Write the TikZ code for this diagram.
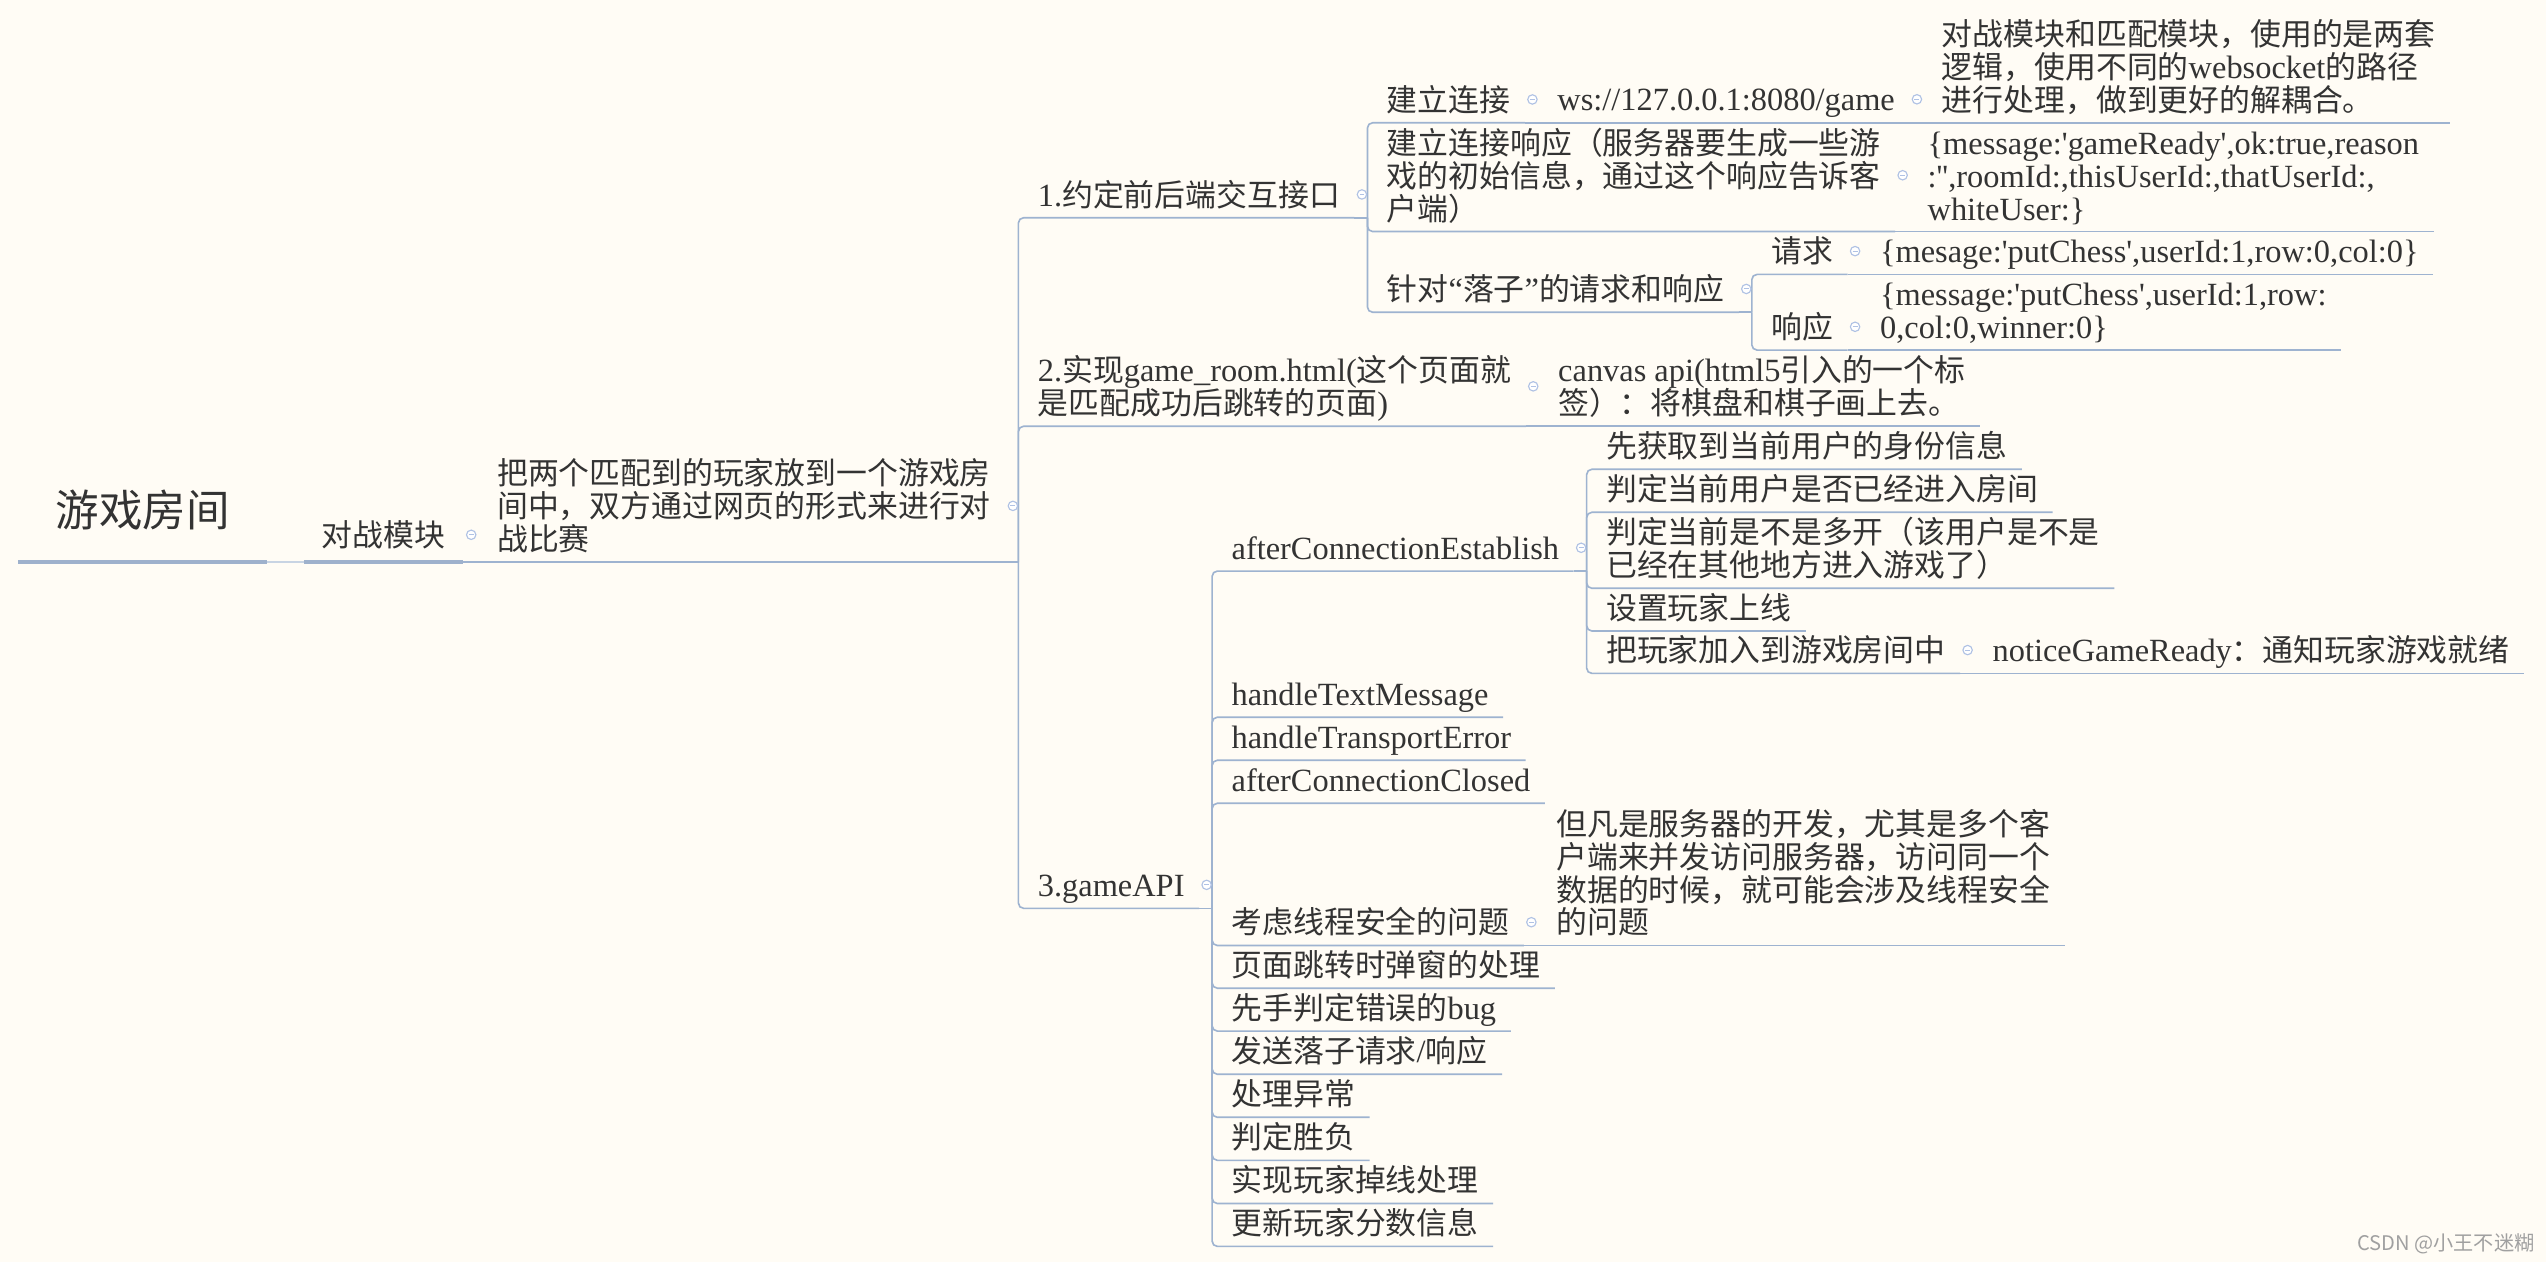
\documentclass[tikz,border=0pt]{standalone}
\usepackage{fontspec}
\usepackage{xcolor}
\usepackage{tikz}
\setmainfont{Noto Sans CJK SC}
\newfontfamily\enfont{Liberation Serif}[Scale=1.05]
\newcommand{\en}[1]{{\enfont #1}}
\newcommand{\tstrut}{\rule[-2.05pt]{0pt}{10.15pt}}
\newcommand{\tpad}{\kern1.5pt\tstrut}
\newcommand{\ml}[1]{\vbox{\lineskiplimit=-\maxdimen\baselineskip=10.15pt\let\\\cr\halign{\tstrut##\hfil\cr#1\crcr}}}

\definecolor{paper}{RGB}{255,252,245}
\definecolor{textdark}{RGB}{51,51,51}
\definecolor{linkblue}{RGB}{158,179,208}
\definecolor{mainblue}{RGB}{158,177,204}
\definecolor{paleblue}{RGB}{200,212,227}
\definecolor{foldblue}{RGB}{176,194,228}
\definecolor{wmgray}{RGB}{160,160,160}

\tikzset{
  topic/.style={anchor=south west, xshift=4pt, inner xsep=4.5pt, inner ysep=1.5pt, outer sep=0pt,
    text=textdark, font=\fontsize{9.5}{10.15}\selectfont, execute at begin node=\tpad},
  maintopic/.style={anchor=south west, inner xsep=5.5pt, inner ysep=2.75pt, outer sep=0pt,
    text=textdark, font=\fontsize{9.5}{10.15}\selectfont, execute at begin node=\tstrut},
  roottopic/.style={minimum width=76.65pt, minimum height=32.2pt, inner sep=0pt, outer sep=0pt,
    text=textdark, font=\fontsize{13.4}{16}\selectfont},
  fold/.style={circle, draw=foldblue, fill=white, line width=0.35pt, minimum size=2.9pt, inner sep=0pt,
    path picture={\draw[foldblue, line width=0.3pt] ([xshift=-0.75pt]path picture bounding box.center) -- ([xshift=0.75pt]path picture bounding box.center);}},
  link/.style={draw=linkblue, line width=0.5pt, rounded corners=1.6pt},
  mainline/.style={draw=mainblue, line width=1.35pt},
  rootlink/.style={draw=paleblue, line width=0.6pt},
  credit/.style={inner sep=0pt, text=wmgray, font=\fontsize{6.2}{7}\selectfont}
}

\begin{document}
\begin{tikzpicture}[x=0.5pt, y=-0.5pt]
  \useasboundingbox (0,0) rectangle (1568,777.2);
  \fill[paper] (0,0) rectangle (1568,777.2);

  % root and main topic
  \node[roottopic] (root) at (87.95,314) {游戏房间};
  \node[maintopic] (fight) at (187.2,346.2) {对战模块};
  \node[topic, xshift=0.5pt] (desc) at (fight.south east |- 0,346.2) {\ml{把两个匹配到的玩家放到一个游戏房\\间中，双方通过网页的形式来进行对\\战比赛}};

  % first level
  \node[topic] (api1) at (desc.south east |- 0,134.1) {\en{1.}约定前后端交互接口};
  \node[topic] (page) at (desc.south east |- 0,262.5) {\ml{\en{2.}实现\en{game\_room.html(}这个页面就\\是匹配成功后跳转的页面\en{)}}};
  \node[topic] (gapi) at (desc.south east |- 0,559.4) {\en{3.gameAPI}};

  % 1. interface
  \node[topic] (conn) at (api1.south east |- 0,75.6) {建立连接};
  \node[topic] (wsurl) at (conn.south east |- 0,75.6) {\en{ws://127.0.0.1:8080/game}};
  \node[topic] (wsnote) at (wsurl.south east |- 0,75.6) {\ml{对战模块和匹配模块，使用的是两套\\逻辑，使用不同的\en{websocket}的路径\\进行处理，做到更好的解耦合。}};
  \node[topic] (connresp) at (api1.south east |- 0,142.6) {\ml{建立连接响应（服务器要生成一些游\\戏的初始信息，通过这个响应告诉客\\户端）}};
  \node[topic] (readymsg) at (connresp.south east |- 0,142.6) {\ml{\en{\{message:'gameReady',ok:true,reason}\\\en{:'',roomId:,thisUserId:,thatUserId:,}\\\en{whiteUser:\}}}};
  \node[topic] (chess) at (api1.south east |- 0,192.3) {针对\en{“}落子\en{”}的请求和响应};
  \node[topic] (req) at (chess.south east |- 0,169) {请求};
  \node[topic] (reqmsg) at (req.south east |- 0,169) {\en{\{mesage:'putChess',userId:1,row:0,col:0\}}};
  \node[topic] (resp) at (chess.south east |- 0,215.6) {响应};
  \node[topic] (respmsg) at (resp.south east |- 0,215.6) {\ml{\en{\{message:'putChess',userId:1,row:}\\\en{0,col:0,winner:0\}}}};

  % 2. page
  \node[topic] (canvas) at (page.south east |- 0,262.5) {\ml{\en{canvas api(html5}引入的一个标\\签）：将棋盘和棋子画上去。}};

  % 3. gameAPI
  \node[topic] (established) at (gapi.south east |- 0,351.7) {\en{afterConnectionEstablish}};
  \node[topic] (textmsg) at (gapi.south east |- 0,441.7) {\en{handleTextMessage}};
  \node[topic] (transerr) at (gapi.south east |- 0,468.2) {\en{handleTransportError}};
  \node[topic] (closed) at (gapi.south east |- 0,494.7) {\en{afterConnectionClosed}};
  \node[topic] (safety) at (gapi.south east |- 0,582.3) {考虑线程安全的问题};
  \node[topic] (popup) at (gapi.south east |- 0,608.6) {页面跳转时弹窗的处理};
  \node[topic] (firstbug) at (gapi.south east |- 0,635) {先手判定错误的\en{bug}};
  \node[topic] (sendmsg) at (gapi.south east |- 0,661.6) {发送落子请求\en{/}响应};
  \node[topic] (except) at (gapi.south east |- 0,688.1) {处理异常};
  \node[topic] (judge) at (gapi.south east |- 0,714.6) {判定胜负};
  \node[topic] (offline) at (gapi.south east |- 0,741.2) {实现玩家掉线处理};
  \node[topic] (score) at (gapi.south east |- 0,767.6) {更新玩家分数信息};

  \node[topic] (getinfo) at (established.south east |- 0,289) {先获取到当前用户的身份信息};
  \node[topic] (inroom) at (established.south east |- 0,315.5) {判定当前用户是否已经进入房间};
  \node[topic] (multi) at (established.south east |- 0,362.3) {\ml{判定当前是不是多开（该用户是不是\\已经在其他地方进入游戏了）}};
  \node[topic] (online) at (established.south east |- 0,388.6) {设置玩家上线};
  \node[topic] (join) at (established.south east |- 0,414.7) {把玩家加入到游戏房间中};
  \node[topic] (notice) at (join.south east |- 0,414.7) {\en{noticeGameReady}：通知玩家游戏就绪};
  \node[topic] (safenote) at (safety.south east |- 0,582.3) {\ml{但凡是服务器的开发，尤其是多个客\\户端来并发访问服务器，访问同一个\\数据的时候，就可能会涉及线程安全\\的问题}};

  % junctions
  \coordinate (desc-j) at ([xshift=4pt]desc.south east);
  \coordinate (api1-j) at ([xshift=4pt]api1.south east);
  \coordinate (chess-j) at ([xshift=4pt]chess.south east);
  \coordinate (gapi-j) at ([xshift=4pt]gapi.south east);
  \coordinate (est-j) at ([xshift=4pt]established.south east);

  % connectors
  \draw[rootlink] (root.south east) -- (fight.south west);
  \draw[mainline] (root.south west) -- (root.south east);
  \draw[mainline] (fight.south west) -- (fight.south east);
  \draw[link] (fight.south east) -- (desc.south east);
  \draw[link] (desc.south east) -- (desc-j);
  \draw[link] (desc-j) |- (api1.south east);
  \draw[link] (desc-j) |- (page.south east);
  \draw[link] (desc-j) |- (gapi.south east);

  \draw[link] (api1.south east) -- (api1-j);
  \draw[link] (api1-j) |- (conn.south east);
  \draw[link] (api1-j) |- (connresp.south east);
  \draw[link] (api1-j) |- (chess.south east);
  \draw[link] (conn.south east) -- (wsurl.south east);
  \draw[link] (wsurl.south east) -- (wsnote.south east);
  \draw[link] (connresp.south east) -- (readymsg.south east);
  \draw[link] (chess.south east) -- (chess-j);
  \draw[link] (chess-j) |- (req.south east);
  \draw[link] (chess-j) |- (resp.south east);
  \draw[link] (req.south east) -- (reqmsg.south east);
  \draw[link] (resp.south east) -- (respmsg.south east);

  \draw[link] (page.south east) -- (canvas.south east);

  \draw[link] (gapi.south east) -- (gapi-j);
  \draw[link] (gapi-j) |- (established.south east);
  \draw[link] (gapi-j) |- (textmsg.south east);
  \draw[link] (gapi-j) |- (transerr.south east);
  \draw[link] (gapi-j) |- (closed.south east);
  \draw[link] (gapi-j) |- (safety.south east);
  \draw[link] (gapi-j) |- (popup.south east);
  \draw[link] (gapi-j) |- (firstbug.south east);
  \draw[link] (gapi-j) |- (sendmsg.south east);
  \draw[link] (gapi-j) |- (except.south east);
  \draw[link] (gapi-j) |- (judge.south east);
  \draw[link] (gapi-j) |- (offline.south east);
  \draw[link] (gapi-j) |- (score.south east);

  \draw[link] (established.south east) -- (est-j);
  \draw[link] (est-j) |- (getinfo.south east);
  \draw[link] (est-j) |- (inroom.south east);
  \draw[link] (est-j) |- (multi.south east);
  \draw[link] (est-j) |- (online.south east);
  \draw[link] (est-j) |- (join.south east);
  \draw[link] (join.south east) -- (notice.south east);
  \draw[link] (safety.south east) -- (safenote.south east);

  % collapse markers
  \node[fold] (fight-f) at ([xshift=2.5pt,yshift=0.6pt]fight.east) {};
  \node[fold] (desc-f) at ([xshift=2.3pt,yshift=0.6pt]desc.east) {};
  \node[fold] (api1-f) at ([xshift=2.3pt,yshift=0.6pt]api1.east) {};
  \node[fold] (page-f) at ([xshift=2.3pt,yshift=0.6pt]page.east) {};
  \node[fold] (gapi-f) at ([xshift=2.3pt,yshift=0.6pt]gapi.east) {};
  \node[fold] (conn-f) at ([xshift=2.3pt,yshift=0.6pt]conn.east) {};
  \node[fold] (wsurl-f) at ([xshift=2.3pt,yshift=0.6pt]wsurl.east) {};
  \node[fold] (connresp-f) at ([xshift=2.3pt,yshift=0.6pt]connresp.east) {};
  \node[fold] (chess-f) at ([xshift=2.3pt,yshift=0.6pt]chess.east) {};
  \node[fold] (req-f) at ([xshift=2.3pt,yshift=0.6pt]req.east) {};
  \node[fold] (resp-f) at ([xshift=2.3pt,yshift=0.6pt]resp.east) {};
  \node[fold] (established-f) at ([xshift=2.3pt,yshift=0.6pt]established.east) {};
  \node[fold] (join-f) at ([xshift=2.3pt,yshift=0.6pt]join.east) {};
  \node[fold] (safety-f) at ([xshift=2.3pt,yshift=0.6pt]safety.east) {};

  \node[credit] (watermark) at (1506.3,765.8) {CSDN @小王不迷糊};
\end{tikzpicture}
\end{document}
